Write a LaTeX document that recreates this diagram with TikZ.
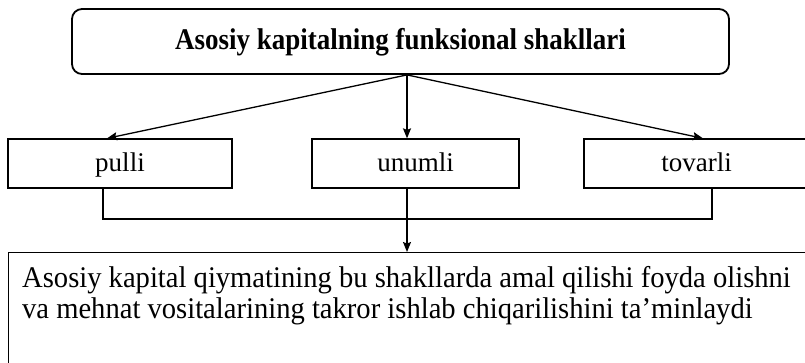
\documentclass[tikz,border=0pt]{standalone}
\usepackage{fontspec}
\setmainfont{Liberation Serif}
\newfontfamily\titlefont[FakeStretch=0.9]{Liberation Serif}
\newfontfamily\descfont[FakeStretch=0.953]{Liberation Serif}
\usetikzlibrary{arrows.meta,calc}
\begin{document}
\begin{tikzpicture}[x=1pt,y=-1pt,
  titlebox/.style={draw, line width=1.8pt, rounded corners=10pt, minimum width=657pt, minimum height=65pt, inner sep=0pt, text height=21pt, text depth=5pt, font=\fontsize{30}{34}\titlefont\bfseries},
  formbox/.style={draw, line width=1.3pt, minimum height=49pt, inner sep=0pt, text height=19pt, text depth=4pt, font=\fontsize{27}{32}\selectfont},
  conn/.style={line width=1.3pt},
  arr/.style={conn, -{Stealth[length=10pt,width=8pt,inset=1.5pt]}}
  ]
  \useasboundingbox (0,0) rectangle (805,362);
  \clip (0,0) rectangle (805,362);
  \node[titlebox] (top) at (400.5,41.5) {Asosiy kapitalning funksional shakllari};
  \node[formbox, minimum width=224pt] (pulli) at (120,163.5) {pulli};
  \node[formbox, minimum width=207pt] (unumli) at (415.5,163.5) {unumli};
  \node[formbox, minimum width=225pt] (tovarli) at (696.5,163.5) {tovarli};
  \node[draw, line width=1.3pt, anchor=north west, minimum width=812pt, minimum height=130pt, inner sep=0pt] (bottom) at (8,252) {};
  \node[anchor=base west, align=left, inner sep=0pt, font=\fontsize{30}{31}\descfont] (desc) at (22,318)
    {Asosiy kapital qiymatining bu shakllarda amal qilishi foyda olishni\\va mehnat vositalarining takror ishlab chiqarilishini ta’minlaydi};
  \coordinate (c) at ($(top.south)+(6.5,0)$);
  \coordinate (bus) at (407,219);
  \draw[arr] (c) -- ([xshift=-13pt]pulli.north);
  \draw[arr] (c) -- (unumli.north -| c);
  \draw[arr] (c) -- ([xshift=6.5pt]tovarli.north);
  \draw[conn] ([xshift=-17pt]pulli.south) |- (bus) -| ([xshift=15.5pt]tovarli.south);
  \draw[arr] (unumli.south -| c) -- (bottom.north -| c);
\end{tikzpicture}
\end{document}
